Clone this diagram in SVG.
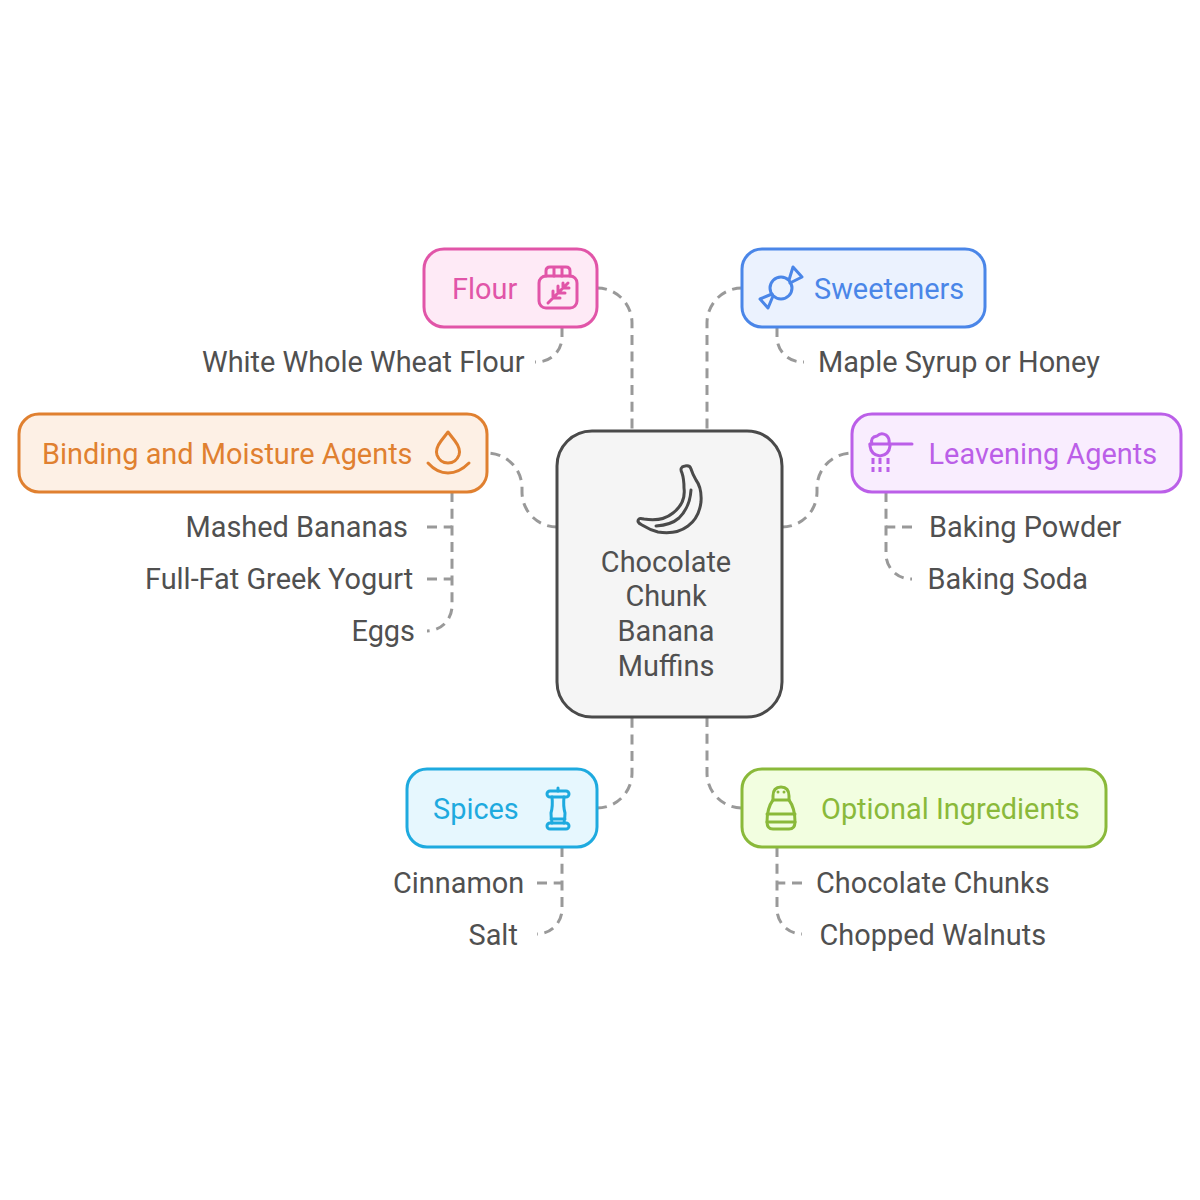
<svg xmlns="http://www.w3.org/2000/svg" width="1200" height="1200" viewBox="0 0 1200 1200">
<style>
text{font-family:Roboto,"Liberation Sans",sans-serif;font-size:28.9px;font-weight:400}
.l{fill:#505050}
.box{stroke-width:3}
.ic{fill:none;stroke-width:3;stroke-linecap:round;stroke-linejoin:round}
.c{fill:none;stroke:#999;stroke-width:3;stroke-dasharray:10 6.7}
.pink{fill:#e155a8}.blue{fill:#4a86e8}.orange{fill:#e08030}.purple{fill:#bb5fe8}.cyan{fill:#1eaadf}.green{fill:#8ab93a}
</style>
<rect width="1200" height="1200" fill="#fff"/>
<g id="connectors">
<path class="c" d="M597 288A35 35 0 0 1 632 323V431"/>
<path class="c" d="M562 327V337A25 25 0 0 1 537 362H535"/>
<path class="c" d="M742 288A35 35 0 0 0 707 323V431"/>
<path class="c" d="M777 327V337A25 25 0 0 0 802 362H804"/>
<path class="c" d="M557 527A35 35 0 0 1 522 492V488A35 35 0 0 0 487 453"/>
<path class="c" d="M452 492V606A25 25 0 0 1 427 631"/>
<path class="c" d="M427 527H452"/>
<path class="c" d="M427 579H452"/>
<path class="c" d="M782 527A35 35 0 0 0 817 492V488A35 35 0 0 1 852 453"/>
<path class="c" d="M886 492V554A25 25 0 0 0 911 579H912"/>
<path class="c" d="M912 527H886"/>
<path class="c" d="M597 808A35 35 0 0 0 632 773V717"/>
<path class="c" d="M707 717V773A35 35 0 0 0 742 808"/>
<path class="c" d="M562 847V909A25 25 0 0 1 537 934"/>
<path class="c" d="M537 883H562"/>
<path class="c" d="M777 847V909A25 25 0 0 0 802 934"/>
<path class="c" d="M802 883H777"/>
</g>
<g id="center">
<rect x="557" y="431" width="225" height="286" rx="35" fill="#f5f5f5" stroke="#4a4a4a" stroke-width="3"/>
<g class="ic" stroke="#4a4a4a">
<path d="M682 473Q679 467 685 466Q690 465 691 469Q693 475 696 480Q702 488 701 502Q699 518 688 526Q676 535 658 532Q650 530 642 525Q636 522 639 519Q640 518 644 519Q662 522 673 513Q686 503 684 488Q684 479 682 473Z"/>
<path d="M691 490Q690 507 679 518Q671 525 656 526"/>
</g>
<text class="l" text-anchor="middle" x="666" y="571.600">Chocolate</text>
<text class="l" text-anchor="middle" x="666" y="606.400">Chunk</text>
<text class="l" text-anchor="middle" x="666" y="640.800">Banana</text>
<text class="l" text-anchor="middle" x="666" y="675.500">Muffins</text>
</g>
<g id="flour">
<rect class="box" x="424" y="249" width="173" height="78" rx="20" fill="#feeaf6" stroke="#e155a8"/>
<text class="pink" x="452" y="298.500">Flour</text>
<g class="ic" stroke="#e155a8">
<rect x="539" y="276" width="38" height="32" rx="7"/>
<path d="M546 276V271Q546 267 550 267H566Q570 267 570 271V276M554 267V276M562 267V276"/>
<path d="M548 303L568 283M553 298V291M553 298H560M558 293V286M558 293H565M563 288V283M563 288H569"/>
</g>
</g>
<g id="sweeteners">
<rect class="box" x="742" y="249" width="243" height="78" rx="20" fill="#ebf2fe" stroke="#4a86e8"/>
<text class="blue" x="814" y="298.500">Sweeteners</text>
<g class="ic" stroke="#4a86e8">
<circle cx="781" cy="288" r="11"/>
<path d="M773 296L768 308L760 299L772 294M789 280L793 267L802 277L790 283"/>
</g>
</g>
<g id="maple"><text class="l" x="818" y="371.600">Maple Syrup or Honey</text></g>
<g id="wheat"><text class="l" x="202" y="371.600">White Whole Wheat Flour</text></g>
<g id="binding">
<rect class="box" x="19" y="414" width="468" height="78" rx="20" fill="#fdf0e5" stroke="#e08030"/>
<text class="orange" x="42" y="463.500">Binding and Moisture Agents</text>
<g class="ic" stroke="#e08030">
<path d="M448 432L455 441Q461 449 459 455Q456 463 448 463Q440 463 437 455Q435 449 441 441Z"/>
<path d="M428 463Q437 473 448 473Q459 473 469 463"/>
</g>
</g>
<g id="mashed"><text class="l" x="185.500" y="536.600">Mashed Bananas</text></g>
<g id="yogurt"><text class="l" x="145" y="588.600">Full-Fat Greek Yogurt</text></g>
<g id="eggs"><text class="l" x="351.500" y="640.600">Eggs</text></g>
<g id="leavening">
<rect class="box" x="852" y="414" width="329" height="78" rx="20" fill="#f9edfe" stroke="#bb5fe8"/>
<text class="purple" x="928.500" y="463.500">Leavening Agents</text>
<g class="ic" stroke="#bb5fe8">
<path d="M870 444H912"/>
<path d="M870 444V446Q871 455 880 456Q889 455 890 446V444"/>
<path d="M872 444Q870 437 877 436Q881 432 886 435Q890 438 889 444"/>
</g>
<path fill="none" stroke="#bb5fe8" stroke-width="3" stroke-dasharray="6 3" d="M873 458V472M880 458V472M888 458V472"/>
</g>
<g id="powder"><text class="l" x="929" y="536.600">Baking Powder</text></g>
<g id="soda"><text class="l" x="927.500" y="588.600">Baking Soda</text></g>
<g id="spices">
<rect class="box" x="407" y="769" width="190" height="78" rx="20" fill="#e6f7fe" stroke="#1eaadf"/>
<text class="cyan" x="433" y="818.500">Spices</text>
<g class="ic" stroke="#1eaadf">
<rect x="547" y="791" width="22" height="6" rx="3"/>
<rect x="547" y="823" width="22" height="6" rx="3"/>
<path d="M558 791V788M552 797Q553 806 551 813Q551 818 552 823M564 797Q563 806 565 813Q565 818 564 823M551 819H565"/>
</g>
</g>
<g id="optional">
<rect class="box" x="742" y="769" width="364" height="78" rx="20" fill="#f2fee0" stroke="#8ab93a"/>
<text class="green" x="821" y="818.500">Optional Ingredients</text>
<g class="ic" stroke="#8ab93a">
<path d="M773 800V796Q773 787 781 787Q789 787 789 796V800Z"/>
<path d="M773 800Q767 808 767 822Q767 829 773 829H789Q795 829 795 822Q795 808 789 800"/>
<path d="M767 814H795M767 822H795"/>
</g>
<circle cx="778" cy="792" r="1.5" fill="#8ab93a"/><circle cx="784" cy="792" r="1.5" fill="#8ab93a"/>
</g>
<g id="cinnamon"><text class="l" x="393" y="892.600">Cinnamon</text></g>
<g id="salt"><text class="l" x="468.500" y="944.600">Salt</text></g>
<g id="chunks"><text class="l" x="816" y="892.600">Chocolate Chunks</text></g>
<g id="walnuts"><text class="l" x="819.500" y="944.600">Chopped Walnuts</text></g>
</svg>
